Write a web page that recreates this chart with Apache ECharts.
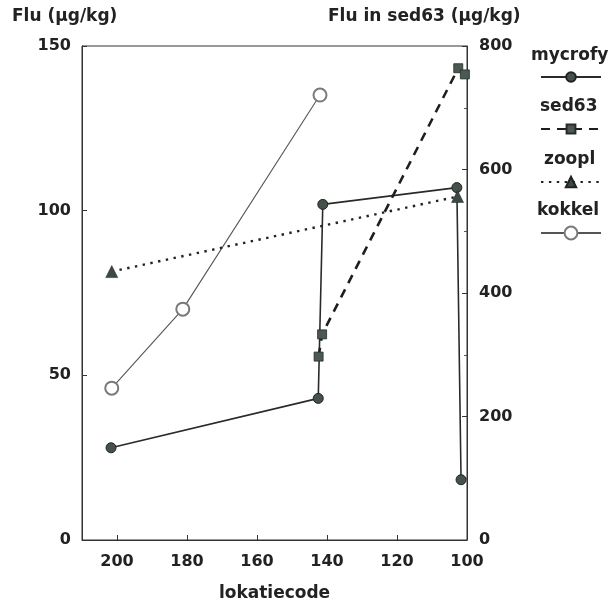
<!DOCTYPE html>
<html>
<head>
<meta charset="utf-8">
<script src="https://cdn.jsdelivr.net/npm/echarts@6/dist/echarts.min.js"></script>
<style>html,body{margin:0;padding:0;background:#fff}#c{width:610px;height:607px}</style>
</head>
<body>
<div id="c"></div>
<script>
var seriesNames = ['mycrofy', 'sed63', 'zoopl', 'kokkel'];
var mycrofy = [[201.7, 28.0], [142.5, 43.0], [141.2, 101.9], [102.9, 107.0], [101.7, 18.3]];
var sed63 = [[142.4, 297], [141.4, 333], [102.5, 764], [100.6, 754]];
var zoopl = [[201.5, 81.5], [102.7, 104.3]];
var kokkel = [[201.5, 46.1], [181.2, 70.1], [142.0, 135.1]];
var xTicks = {min: 100, max: 210, interval: 20};
var yLeft = {min: 0, max: 150, interval: 50};
var yRight = {min: 0, max: 800, interval: 200};

var FONT = 'DejaVu Sans';
var TXT = '#222';
var lab = {color: TXT, fontFamily: FONT, fontWeight: 'bold', fontSize: 16};

var chart = echarts.init(document.getElementById('c'));

function legendAt(name, top, h) {
  return {
    data: [name], left: 540, top: top - h / 2, padding: 0,
    itemWidth: 60, itemHeight: h, selectedMode: false,
    formatter: function () { return ''; }
  };
}

var option = {
  animation: false,
  backgroundColor: '#fff',
  grid: {left: 82, right: 143, top: 46, bottom: 67, show: true, borderColor: '#333', borderWidth: 1},
  legend: [
    legendAt('mycrofy', 77, 12),
    legendAt('sed63', 129, 11),
    legendAt('zoopl', 182, 13),
    legendAt('kokkel', 233, 16)
  ],
  graphic: [
    {type: 'text', left: 531, top: 47, style: {text: 'mycrofy', font: 'bold 17px "DejaVu Sans"', fill: TXT}},
    {type: 'text', left: 540, top: 98, style: {text: 'sed63', font: 'bold 17px "DejaVu Sans"', fill: TXT}},
    {type: 'text', left: 544, top: 151, style: {text: 'zoopl', font: 'bold 17px "DejaVu Sans"', fill: TXT}},
    {type: 'text', left: 537, top: 202, style: {text: 'kokkel', font: 'bold 17px "DejaVu Sans"', fill: TXT}},
    {type: 'text', left: 12, top: 8, style: {text: 'Flu (µg/kg)', font: 'bold 17px "DejaVu Sans"', fill: TXT}},
    {type: 'text', left: 328, top: 8, style: {text: 'Flu in sed63 (µg/kg)', font: 'bold 17px "DejaVu Sans"', fill: TXT}}
  ],
  xAxis: {
    type: 'value', inverse: true, min: xTicks.min, max: xTicks.max, interval: xTicks.interval,
    name: 'lokatiecode', nameLocation: 'middle', nameGap: 45,
    nameTextStyle: {color: TXT, fontFamily: FONT, fontWeight: 'bold', fontSize: 17},
    axisLine: {lineStyle: {color: '#333', width: 1}},
    axisTick: {inside: true, length: 5, lineStyle: {color: '#333'}},
    axisLabel: Object.assign({margin: 14, showMaxLabel: false}, lab),
    splitLine: {show: false}
  },
  yAxis: [
    {
      type: 'value', min: yLeft.min, max: yLeft.max, interval: yLeft.interval,
      axisLine: {show: true, lineStyle: {color: '#333', width: 1}},
      axisTick: {show: true, inside: true, length: 5, lineStyle: {color: '#333'}},
      axisLabel: Object.assign({margin: 11}, lab),
      splitLine: {show: false}
    },
    {
      type: 'value', position: 'right', min: yRight.min, max: yRight.max, interval: yRight.interval,
      axisLine: {show: true, lineStyle: {color: '#333', width: 1}},
      axisTick: {show: true, inside: true, length: 5, lineStyle: {color: '#333'}},
      minorTick: {show: true, splitNumber: 2, length: 3, lineStyle: {color: '#555'}},
      axisLabel: Object.assign({margin: 12}, lab),
      splitLine: {show: false}
    }
  ],
  series: [
    {
      name: 'mycrofy', type: 'line', data: mycrofy, yAxisIndex: 0, z: 3,
      symbol: 'circle', symbolSize: 10,
      lineStyle: {color: '#2a2a2a', width: 1.6},
      itemStyle: {color: '#44524a', borderColor: '#222', borderWidth: 1}
    },
    {
      name: 'sed63', type: 'line', data: sed63, yAxisIndex: 1, z: 3,
      symbol: 'rect', symbolSize: 9,
      lineStyle: {color: '#1e1e1e', width: 2.6, type: [9, 7]},
      itemStyle: {color: '#4a5a50', borderColor: '#2a2a2a', borderWidth: 0.8}
    },
    {
      name: 'zoopl', type: 'line', data: zoopl, yAxisIndex: 0, z: 3,
      symbol: 'triangle', symbolSize: 12,
      lineStyle: {color: '#222', width: 2.4, type: [2.4, 5.5]},
      itemStyle: {color: '#3a4a40', borderColor: '#222', borderWidth: 0.5}
    },
    {
      name: 'kokkel', type: 'line', data: kokkel, yAxisIndex: 0, z: 2,
      symbol: 'emptyCircle', symbolSize: 13,
      lineStyle: {color: '#555', width: 1.1},
      itemStyle: {color: '#7a7a7a', borderColor: '#7a7a7a', borderWidth: 1}
    }
  ]
};
chart.setOption(option);
</script>
</body>
</html>
